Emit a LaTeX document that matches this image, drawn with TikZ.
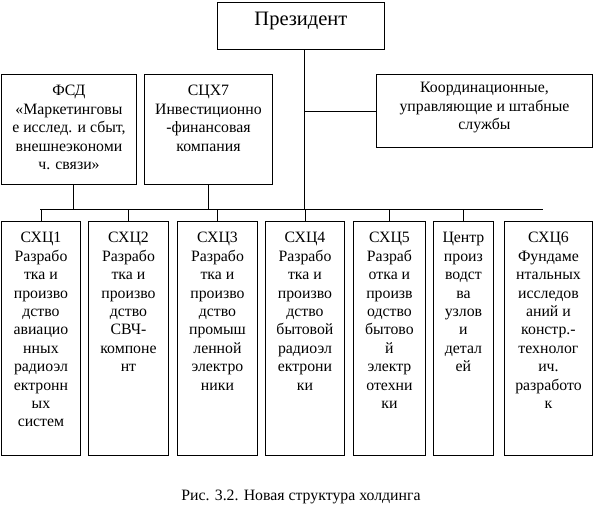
\documentclass[tikz,border=0pt]{standalone}
\usepackage{fontspec}
\setmainfont{Liberation Serif}
\usetikzlibrary{positioning}

\begin{document}
\begin{tikzpicture}[x=1pt, y=-1pt, line width=0.9pt,
  every node/.style={align=center},
  box/.style={draw, anchor=north west, inner sep=0pt},
  txt/.style={inner sep=0pt, font=\fontsize{15.8}{18.4}\selectfont}]
\useasboundingbox (0,0) rectangle (593,504);

% top level
\node[box, minimum width=167pt, minimum height=47pt] (pres) at (217,2) {};
\node[txt, font=\fontsize{20.5}{22}\selectfont, below=10pt of pres.north] (tpres) {Президент};
\node[box, minimum width=135pt, minimum height=110pt] (fsd) at (1,74) {};
\node[txt, below=11pt of fsd.north] (tfsd) {ФСД\\«Маркетинговы\\е исслед. и сбыт,\\внешнеэкономи\\ч. связи»};
\node[box, minimum width=128pt, minimum height=110pt] (sch7) at (144,74) {};
\node[txt, below=11pt of sch7.north] (tsch7) {СЦХ7\\Инвестиционно\\-финансовая\\компания};
\node[box, minimum width=216pt, minimum height=73pt] (coord) at (376,74) {};
\node[txt, below=8pt of coord.north] (tcoord) {Координационные,\\управляющие и штабные\\службы};

% business units
\node[box, minimum width=79pt, minimum height=234pt] (c1) at (1,221) {};
\node[box, minimum width=80pt, minimum height=234pt] (c2) at (88,221) {};
\node[box, minimum width=80pt, minimum height=234pt] (c3) at (177,221) {};
\node[box, minimum width=79pt, minimum height=234pt] (c4) at (265,221) {};
\node[box, minimum width=72pt, minimum height=234pt] (c5) at (353,221) {};
\node[box, minimum width=60pt, minimum height=234pt] (c6) at (433,221) {};
\node[box, minimum width=88pt, minimum height=234pt] (c7) at (504,221) {};
\node[txt, below=11pt of c1.north] (t1) {СХЦ1\\Разрабо\\тка и\\произво\\дство\\авиацио\\нных\\радиоэл\\ектронн\\ых\\систем};
\node[txt, below=11pt of c2.north] (t2) {СХЦ2\\Разрабо\\тка и\\произво\\дство\\СВЧ-\\компоне\\нт};
\node[txt, below=11pt of c3.north] (t3) {СХЦ3\\Разрабо\\тка и\\произво\\дство\\промыш\\ленной\\электро\\ники};
\node[txt, below=11pt of c4.north] (t4) {СХЦ4\\Разрабо\\тка и\\произво\\дство\\бытовой\\радиоэл\\ектрони\\ки};
\node[txt, below=11pt of c5.north] (t5) {СХЦ5\\Разраб\\отка и\\произв\\одство\\бытово\\й\\электр\\отехни\\ки};
\node[txt, below=11pt of c6.north] (t6) {Центр\\произ\\водст\\ва\\узлов\\и\\детал\\ей};
\node[txt, below=11pt of c7.north] (t7) {СХЦ6\\Фундаме\\нтальных\\исследов\\аний и\\констр.-\\технолог\\ич.\\разработо\\к};

% connectors
\coordinate (busL) at (40,209);
\coordinate (busR) at (543,209);
\draw (busL) -- (busR);
\draw ([xshift=3.5pt]pres.south) -- ([xshift=3.5pt]pres.south |- busL);
\draw ([xshift=3.5pt]pres.south |- coord.west) -- (coord.west);
\draw ([xshift=4pt]fsd.south) -- ([xshift=4pt]fsd.south |- busL);
\draw (sch7.south) -- (sch7.south |- busL);
\foreach \u in {c1,c2,c3,c4,c5,c6}
  \draw (\u.north) -- (\u.north |- busL);

\node[txt, anchor=base] (cap) at (301,500) {Рис. 3.2. Новая структура холдинга};
\end{tikzpicture}
\end{document}
